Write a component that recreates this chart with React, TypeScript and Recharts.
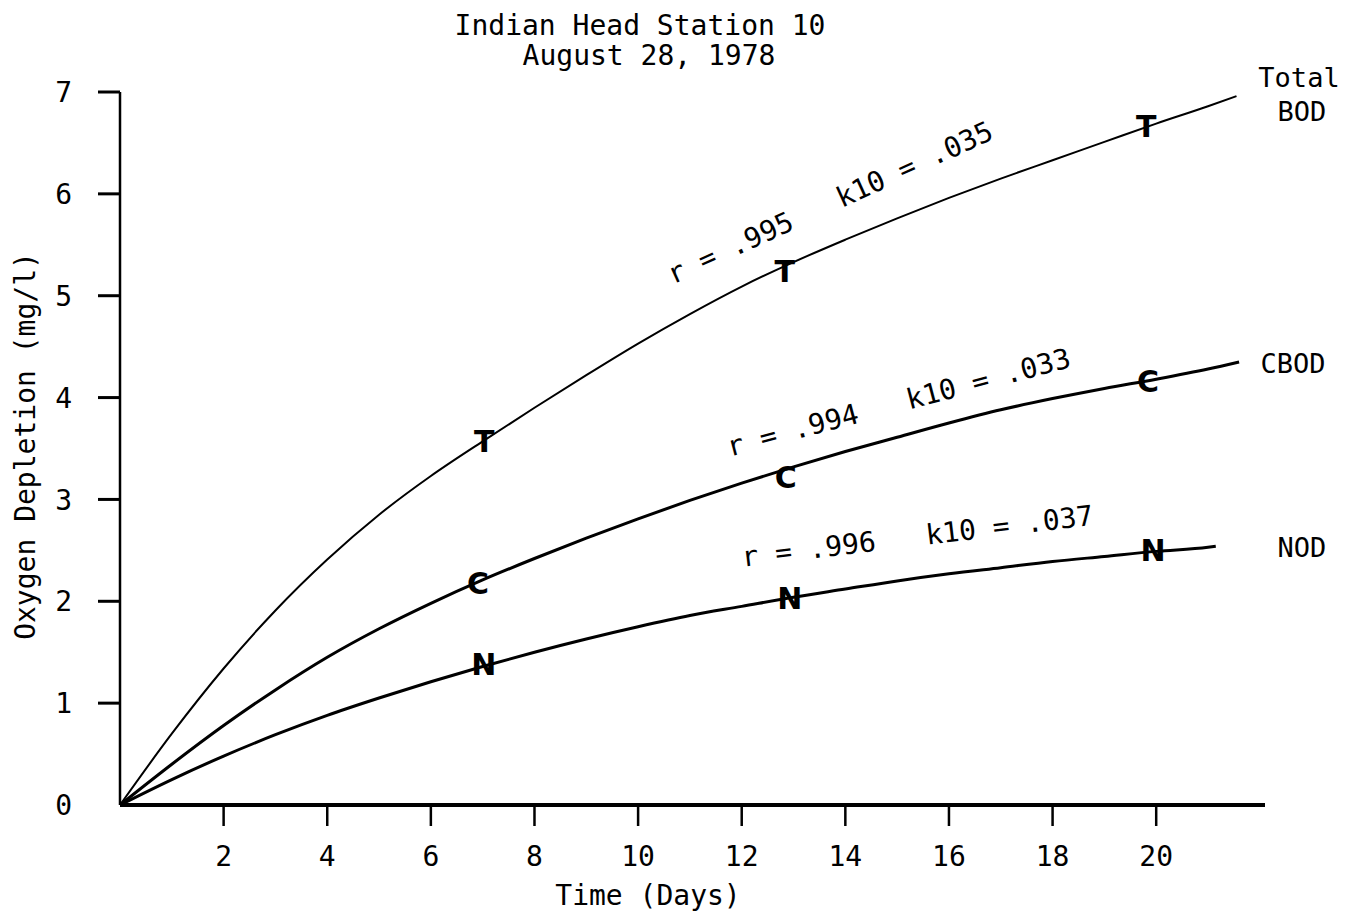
import React from "react";
import {
  ComposedChart, Line, Scatter, XAxis, YAxis, ReferenceDot,
} from "recharts";

const FONT = "DejaVu Sans Mono";

// one reading per day
const DAYS = [0, 1, 2, 3, 4, 5, 6, 7, 8, 9, 10, 11, 12, 13, 14, 15, 16, 17, 18, 19, 20, 21];
const TOTAL_BOD = [0, 0.7, 1.34, 1.91, 2.41, 2.85, 3.23, 3.57, 3.9, 4.22, 4.53, 4.82, 5.09, 5.33, 5.55, 5.76, 5.96, 6.15, 6.33, 6.51, 6.69, 6.86];
const CBOD = [0, 0.4, 0.78, 1.13, 1.45, 1.73, 1.98, 2.21, 2.42, 2.62, 2.81, 2.99, 3.16, 3.32, 3.47, 3.61, 3.75, 3.88, 3.99, 4.09, 4.18, 4.28];
const NOD = [0, 0.25, 0.48, 0.69, 0.88, 1.05, 1.21, 1.36, 1.5, 1.63, 1.75, 1.86, 1.95, 2.04, 2.12, 2.2, 2.27, 2.33, 2.39, 2.44, 2.49, 2.53];

// where each drawn curve stops (total, cbod, nod)
const END_DAYS = [21.55, 21.6, 21.15];
const END_VALUES = [6.96, 4.35, 2.54];

// measured points, drawn as letters
const T_DAYS = [7.03, 12.83, 19.81];
const T_VALUES = [3.57, 5.24, 6.66];
const C_DAYS = [6.91, 12.85, 19.84];
const C_VALUES = [2.18, 3.22, 4.16];
const N_DAYS = [7.02, 12.93, 19.94];
const N_VALUES = [1.38, 2.03, 2.5];

const X_TICKS = [2, 4, 6, 8, 10, 12, 14, 16, 18, 20];
const Y_TICKS = [0, 1, 2, 3, 4, 5, 6, 7];

// fit notes written along the curves
const NOTES = [
  { text: "r = .995   k10 = .035", t: 10.67, v: 5.11, angle: -24.4 },
  { text: "r = .994   k10 = .033", t: 11.77, v: 3.42, angle: -14.7 },
  { text: "r = .996   k10 = .037", t: 12.02, v: 2.34, angle: -6.8 },
];

function curve(values: number[], i: number) {
  return DAYS.map((t, k) => ({ t, v: values[k] })).concat({ t: END_DAYS[i], v: END_VALUES[i] });
}

function points(days: number[], values: number[]) {
  return days.map((t, k) => ({ t, v: values[k] }));
}

const letter = (ch: string) => (p: any) => (
  <text
    x={p.cx}
    y={p.cy}
    dy="0.36em"
    textAnchor="middle"
    fontFamily="DejaVu Sans"
    fontWeight="bold"
    fontSize={30}
    fill="#000"
  >
    {ch}
  </text>
);

const tickStyle = { fontSize: 28, fill: "#000", fontFamily: FONT };

const Y_TICK_SIZE = 22;
const Y_TICK_GAP = 26;

// y ticks drawn by hand so the zero tick has no mark (the scan has none)
function YTick(p: any) {
  const v = p.payload.value;
  return (
    <g>
      {v !== 0 && (
        <line
          x1={p.x + Y_TICK_GAP}
          x2={p.x + Y_TICK_GAP + Y_TICK_SIZE}
          y1={p.y}
          y2={p.y}
          stroke="#000"
          strokeWidth={3}
        />
      )}
      <text x={p.x} y={p.y} dy="0.36em" textAnchor="end" {...tickStyle}>
        {v}
      </text>
    </g>
  );
}

export default function App() {
  return (
    <div style={{ position: "absolute", left: 0, top: 0, width: 1360, height: 912, background: "#fff" }}>
      <ComposedChart width={1360} height={912} margin={{ top: 92, right: 95, bottom: 0, left: 0 }}>
        <XAxis
          type="number"
          dataKey="t"
          domain={[0, 22.1]}
          ticks={X_TICKS}
          interval={0}
          height={107}
          tickSize={21}
          tickMargin={20}
          axisLine={{ stroke: "#000", strokeWidth: 4 }}
          tickLine={{ stroke: "#000", strokeWidth: 2.5 }}
          tick={tickStyle}
        />
        <YAxis
          type="number"
          dataKey="v"
          domain={[0, 7]}
          ticks={Y_TICKS}
          interval={0}
          width={120}
          tickSize={Y_TICK_SIZE}
          tickMargin={Y_TICK_GAP}
          axisLine={{ stroke: "#000", strokeWidth: 2.5 }}
          tickLine={false}
          tick={YTick}
        />
        <Line data={curve(TOTAL_BOD, 0)} dataKey="v" type="monotone" stroke="#000" strokeWidth={2} dot={false} isAnimationActive={false} />
        <Line data={curve(CBOD, 1)} dataKey="v" type="monotone" stroke="#000" strokeWidth={3} dot={false} isAnimationActive={false} />
        <Line data={curve(NOD, 2)} dataKey="v" type="monotone" stroke="#000" strokeWidth={3} dot={false} isAnimationActive={false} />
        <Scatter data={points(T_DAYS, T_VALUES)} dataKey="v" shape={letter("T")} isAnimationActive={false} />
        <Scatter data={points(C_DAYS, C_VALUES)} dataKey="v" shape={letter("C")} isAnimationActive={false} />
        <Scatter data={points(N_DAYS, N_VALUES)} dataKey="v" shape={letter("N")} isAnimationActive={false} />
        {NOTES.map((n) => (
          <ReferenceDot
            key={n.text + n.t}
            x={n.t}
            y={n.v}
            r={0}
            ifOverflow="visible"
            shape={(p: any) => (
              <text
                x={p.cx}
                y={p.cy}
                transform={`rotate(${n.angle}, ${p.cx}, ${p.cy})`}
                fontFamily={FONT}
                fontSize={28}
                fill="#000"
                style={{ whiteSpace: "pre" }}
              >
                {n.text}
              </text>
            )}
          />
        ))}
      </ComposedChart>
      <svg width={1360} height={912} style={{ position: "absolute", left: 0, top: 0, pointerEvents: "none" }}>
        <g fontFamily={FONT} fontSize={28} fill="#000" textAnchor="middle">
          <text x={640} y={35}>Indian Head Station 10</text>
          <text x={649} y={65}>August 28, 1978</text>
          <text x={648} y={905}>Time (Days)</text>
          <text transform="translate(35, 446) rotate(-90)">Oxygen Depletion (mg/l)</text>
        </g>
        <g fontFamily={FONT} fontSize={27} fill="#000" textAnchor="middle">
          <text x={1299} y={87}>Total</text>
          <text x={1302} y={121}>BOD</text>
          <text x={1293} y={373}>CBOD</text>
          <text x={1302} y={557}>NOD</text>
        </g>
      </svg>
    </div>
  );
}
